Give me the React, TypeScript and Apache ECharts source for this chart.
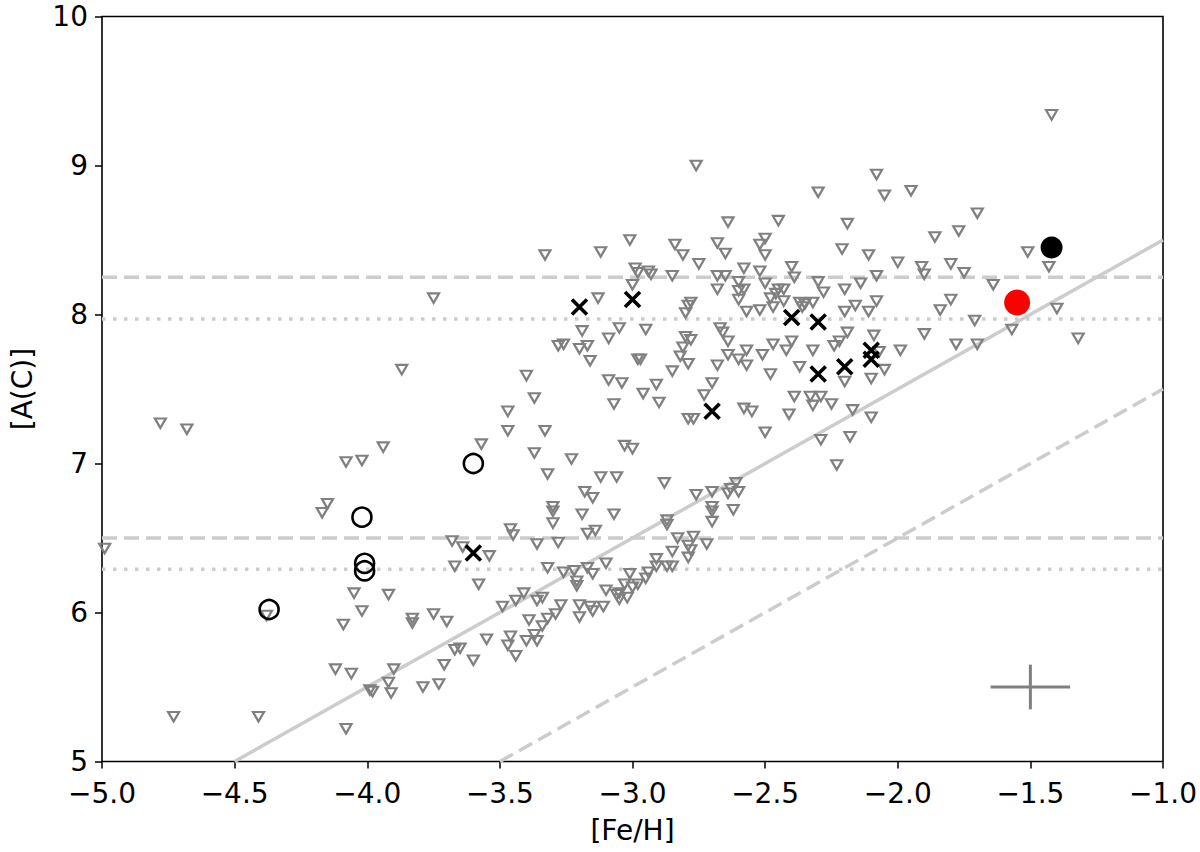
import React, { useEffect, useRef } from "react";
import * as echarts from "echarts";

// Upper-limit stars (grey downward triangles): [Fe/H], A(C)
const limitStars: [number, number][] = [
  [-4.99, 6.43], [-4.38, 5.98], [-4.05, 6.13], [-4.02, 6.01], [-4.09, 5.92], [-4.12, 5.62], [-4.06, 5.59], [-3.99, 5.48], [-4.08, 5.22], [-4.73, 5.30], [-4.41, 5.30],
  [-4.78, 7.27], [-4.68, 7.23], [-4.08, 7.01], [-4.02, 7.02], [-4.17, 6.67], [-4.15, 6.73],
  [-3.87, 7.63], [-3.94, 7.11], [-3.57, 7.13], [-3.40, 7.59], [-3.37, 7.44], [-3.47, 7.35], [-3.47, 7.22], [-3.33, 7.22], [-3.37, 7.07], [-3.23, 7.03], [-3.32, 6.93],
  [-3.19, 7.89], [-3.05, 7.91], [-3.09, 7.84], [-3.28, 7.79], [-3.26, 7.80], [-3.20, 7.77], [-3.17, 7.79], [-3.16, 7.69], [-2.98, 7.70], [-3.09, 7.56], [-3.04, 7.54], [-3.07, 7.40],
  [-3.03, 7.12], [-3.00, 7.10], [-3.12, 6.91], [-3.06, 6.91], [-3.18, 6.81], [-3.15, 6.77], [-3.30, 6.71], [-3.30, 6.68], [-3.30, 6.60], [-3.19, 6.66], [-3.07, 6.66], [-3.46, 6.56], [-3.45, 6.52], [-3.17, 6.53], [-3.14, 6.55],
  [-3.68, 6.48], [-3.64, 6.44], [-3.54, 6.38], [-3.67, 6.31], [-3.58, 6.19], [-3.36, 6.46], [-3.28, 6.47], [-3.32, 6.30], [-3.26, 6.27], [-3.22, 6.28], [-3.21, 6.21], [-3.21, 6.18], [-3.17, 6.30], [-3.15, 6.26], [-3.10, 6.33], [-3.01, 6.26], [-3.03, 6.19], [-3.00, 6.17], [-3.10, 6.15], [-3.06, 6.12], [-3.05, 6.09], [-3.02, 6.10],
  [-3.92, 6.12], [-3.83, 5.96], [-3.83, 5.93], [-3.75, 5.99], [-3.70, 5.94], [-3.41, 6.13], [-3.44, 6.08], [-3.34, 6.10], [-3.36, 6.08], [-3.49, 6.04], [-3.27, 6.05], [-3.29, 5.99], [-3.32, 5.96], [-3.34, 5.91], [-3.39, 5.95], [-3.20, 6.05], [-3.16, 6.04], [-3.15, 6.01], [-3.11, 6.04], [-3.20, 5.97], [-3.05, 6.13],
  [-3.46, 5.84], [-3.47, 5.78], [-3.44, 5.71], [-3.40, 5.81], [-3.37, 5.85], [-3.36, 5.81], [-3.55, 5.82], [-3.65, 5.76], [-3.67, 5.75], [-3.60, 5.68], [-3.71, 5.65], [-3.90, 5.62], [-3.92, 5.53], [-3.91, 5.46], [-3.98, 5.47], [-3.79, 5.50], [-3.73, 5.52],
  [-2.83, 6.50], [-2.77, 6.51], [-2.79, 6.45], [-2.78, 6.42], [-2.72, 6.46], [-2.85, 6.41], [-2.79, 6.37], [-2.87, 6.31], [-2.85, 6.31], [-2.91, 6.36], [-2.91, 6.31], [-2.94, 6.27], [-2.95, 6.23], [-2.98, 6.19],
  [-2.95, 7.90], [-2.80, 7.85], [-2.78, 7.83], [-2.81, 7.78], [-2.82, 7.72], [-2.79, 7.67], [-2.97, 7.70], [-2.85, 7.62], [-2.91, 7.53], [-2.96, 7.47], [-2.90, 7.41],
  [-2.67, 7.91], [-2.66, 7.88], [-2.64, 7.82], [-2.64, 7.73], [-2.60, 7.70], [-2.57, 7.76], [-2.57, 7.66], [-2.68, 7.66], [-2.70, 7.54], [-2.73, 7.46], [-2.79, 7.30], [-2.77, 7.30], [-2.58, 7.37], [-2.55, 7.35], [-2.50, 7.21], [-2.51, 7.73], [-2.47, 7.80], [-2.48, 7.60], [-2.42, 7.76], [-2.40, 7.82], [-2.32, 7.76], [-2.37, 7.65], [-2.24, 7.79], [-2.22, 7.82], [-2.19, 7.88], [-2.09, 7.86], [-2.07, 7.75], [-2.05, 7.63], [-2.10, 7.57], [-2.20, 7.55], [-1.99, 7.76],
  [-2.39, 7.45], [-2.33, 7.45], [-2.29, 7.45], [-2.32, 7.39], [-2.25, 7.40], [-2.41, 7.33], [-2.17, 7.36], [-2.10, 7.31], [-2.29, 7.16], [-2.18, 7.18], [-2.23, 6.99],
  [-2.88, 6.87], [-2.76, 6.79], [-2.70, 6.81], [-2.61, 6.87], [-2.63, 6.83], [-2.60, 6.81], [-2.64, 6.80], [-2.70, 6.71], [-2.70, 6.68], [-2.70, 6.61], [-2.62, 6.69], [-2.87, 6.62], [-2.87, 6.59],
  [-1.90, 7.87], [-1.78, 7.80], [-1.70, 7.80], [-1.57, 7.90], [-1.71, 7.96], [-1.32, 7.84],
  [-1.42, 9.34], [-1.95, 8.83], [-1.70, 8.68], [-1.77, 8.56], [-1.86, 8.52], [-1.51, 8.42], [-1.43, 8.32], [-1.91, 8.32], [-1.90, 8.27], [-1.80, 8.34], [-1.75, 8.28], [-1.64, 8.20], [-1.80, 8.10], [-1.84, 8.03], [-1.40, 8.04],
  [-2.76, 9.00], [-2.08, 8.94], [-2.05, 8.80], [-2.30, 8.82], [-2.64, 8.62], [-2.45, 8.63], [-2.19, 8.61], [-2.84, 8.47], [-2.81, 8.40], [-2.68, 8.48], [-2.65, 8.41], [-2.50, 8.51], [-2.52, 8.47], [-2.50, 8.40], [-2.21, 8.44], [-2.11, 8.40], [-2.00, 8.35], [-2.75, 8.34], [-2.85, 8.26], [-2.94, 8.29], [-2.93, 8.27], [-2.68, 8.26], [-2.65, 8.26], [-2.58, 8.31], [-2.52, 8.29], [-2.40, 8.32], [-2.39, 8.25], [-2.30, 8.22], [-2.28, 8.15], [-2.08, 8.26], [-2.14, 8.21], [-2.20, 8.17],
  [-2.68, 8.17], [-2.60, 8.22], [-2.60, 8.16], [-2.58, 8.17], [-2.50, 8.21], [-2.45, 8.17], [-2.43, 8.17], [-2.46, 8.14], [-2.48, 8.11], [-2.60, 8.10], [-2.43, 8.09], [-2.78, 8.08], [-2.79, 8.06], [-2.80, 8.01], [-2.57, 8.02], [-2.52, 8.03], [-2.47, 8.05], [-2.37, 8.08], [-2.35, 8.07], [-2.32, 8.08], [-2.36, 8.05], [-2.20, 8.02], [-2.16, 8.06], [-2.11, 8.02], [-2.08, 8.09],
  [-3.75, 8.11], [-3.33, 8.40], [-3.12, 8.42], [-3.01, 8.50], [-2.99, 8.31], [-2.98, 8.28], [-3.00, 8.20], [-3.13, 8.11],
];

// Black crosses
const crossStars: [number, number][] = [
  [-3.2, 8.05], [-3.0, 8.1], [-2.4, 7.98], [-2.3, 7.95], [-2.7, 7.35], [-2.3, 7.6], [-2.2, 7.65], [-2.1, 7.76], [-2.1, 7.7], [-3.6, 6.4],
];

// Open black circles
const openCircleStars: [number, number][] = [
  [-4.37, 6.02], [-4.01, 6.33], [-4.01, 6.28], [-4.02, 6.64], [-3.6, 7.0],
];

// Filled circles
const blackStar: [number, number][] = [[-1.42, 8.45]];
const redStar: [number, number][] = [[-1.55, 8.08]];

// Reference lines
const solidDiagonal: [number, number][] = [[-4.5, 5.0], [-1.0, 8.5]];
const dashedDiagonal: [number, number][] = [[-3.5, 5.0], [-1.0, 7.5]];
const dashedLevels = [8.25, 6.5];
const dottedLevels = [7.97, 6.29];

// Typical error bar
const errorCenter: [number, number] = [-1.5, 5.5];
const errorHalfWidth = 0.15;
const errorHalfHeight = 0.15;

const xTicks = { min: -5, max: -1, interval: 0.5 };
const yTicks = { min: 5, max: 10, interval: 1 };

const FONT = "'DejaVu Sans', 'Liberation Sans', sans-serif";
const LINE_GREY = "#cccccc";
const FS = 28;

export default function App() {
  const ref = useRef<HTMLDivElement>(null);

  useEffect(() => {
    if (!ref.current) return;
    const chart = echarts.init(ref.current, undefined, { renderer: "svg" });

    const hLine = (y: number, type: any) => ({
      type: "line",
      data: [[xTicks.min, y], [xTicks.max, y]],
      symbol: "none",
      silent: true,
      z: 1,
      lineStyle: { color: LINE_GREY, width: 3.5, type },
    });

    const [ex, ey] = errorCenter;

    chart.setOption({
      animation: false,
      backgroundColor: "#ffffff",
      grid: {
        left: 101.5,
        top: 16.5,
        width: 1062,
        height: 745,
        show: true,
        borderColor: "#000",
        borderWidth: 1.6,
        backgroundColor: "transparent",
      },
      xAxis: {
        type: "value",
        min: xTicks.min,
        max: xTicks.max,
        interval: xTicks.interval,
        name: "[Fe/H]",
        nameLocation: "middle",
        nameGap: 55,
        nameTextStyle: { fontFamily: FONT, fontSize: FS, color: "#000" },
        axisLine: { show: false },
        axisTick: { show: true, inside: false, length: 7, lineStyle: { color: "#000", width: 1.5 } },
        splitLine: { show: false },
        axisLabel: {
          fontFamily: FONT,
          fontSize: FS,
          lineHeight: FS,
          color: "#000",
          margin: 18,
          formatter: (v: number) => (v < 0 ? "\u2212" : "") + Math.abs(v).toFixed(1),
        },
      },
      yAxis: {
        type: "value",
        min: yTicks.min,
        max: yTicks.max,
        interval: yTicks.interval,
        name: "[A(C)]",
        nameLocation: "middle",
        nameGap: 66,
        nameRotate: 90,
        nameTextStyle: { fontFamily: FONT, fontSize: FS, color: "#000" },
        axisLine: { show: false },
        axisTick: { show: true, inside: false, length: 7, lineStyle: { color: "#000", width: 1.5 } },
        splitLine: { show: false },
        axisLabel: {
          fontFamily: FONT,
          fontSize: FS,
          lineHeight: FS,
          color: "#000",
          margin: 14,
          formatter: (v: number) => String(v),
        },
      },
      series: [
        {
          type: "line",
          data: solidDiagonal,
          symbol: "none",
          silent: true,
          z: 1,
          lineStyle: { color: LINE_GREY, width: 3.5, type: "solid" },
        },
        {
          type: "line",
          data: dashedDiagonal,
          symbol: "none",
          silent: true,
          z: 1,
          lineStyle: { color: LINE_GREY, width: 3.5, type: [15, 7] },
        },
        ...dashedLevels.map((y) => hLine(y, [15, 7])),
        ...dottedLevels.map((y) => hLine(y, [3.5, 7.5])),
        {
          type: "line",
          data: [[ex - errorHalfWidth, ey], [ex + errorHalfWidth, ey]],
          symbol: "none",
          silent: true,
          z: 2,
          lineStyle: { color: "#808080", width: 3 },
        },
        {
          type: "line",
          data: [[ex, ey - errorHalfHeight], [ex, ey + errorHalfHeight]],
          symbol: "none",
          silent: true,
          z: 2,
          lineStyle: { color: "#808080", width: 3 },
        },
        {
          type: "scatter",
          data: limitStars,
          symbol: "triangle",
          symbolRotate: 180,
          symbolSize: [11, 9.5],
          z: 3,
          itemStyle: { color: "rgba(0,0,0,0)", borderColor: "#808080", borderWidth: 2.2, opacity: 1 },
        },
        {
          type: "scatter",
          data: openCircleStars,
          symbol: "circle",
          symbolSize: 19,
          z: 4,
          itemStyle: { color: "rgba(0,0,0,0)", borderColor: "#000", borderWidth: 2.6, opacity: 1 },
        },
        {
          type: "scatter",
          data: crossStars,
          symbol: "path://M0,0L10,10M10,0L0,10",
          symbolSize: 15,
          z: 5,
          itemStyle: { color: "#000", borderColor: "#000", borderWidth: 3.6, opacity: 1 },
        },
        {
          type: "scatter",
          data: blackStar,
          symbol: "circle",
          symbolSize: 22,
          z: 5,
          itemStyle: { color: "#000", opacity: 1 },
        },
        {
          type: "scatter",
          data: redStar,
          symbol: "circle",
          symbolSize: 26,
          z: 5,
          itemStyle: { color: "#ff0000", opacity: 1 },
        },
      ],
    });

    return () => chart.dispose();
  }, []);

  return (
    <div
      ref={ref}
      style={{ position: "absolute", left: 0, top: 0, width: 1200, height: 852, background: "#fff" }}
    />
  );
}
